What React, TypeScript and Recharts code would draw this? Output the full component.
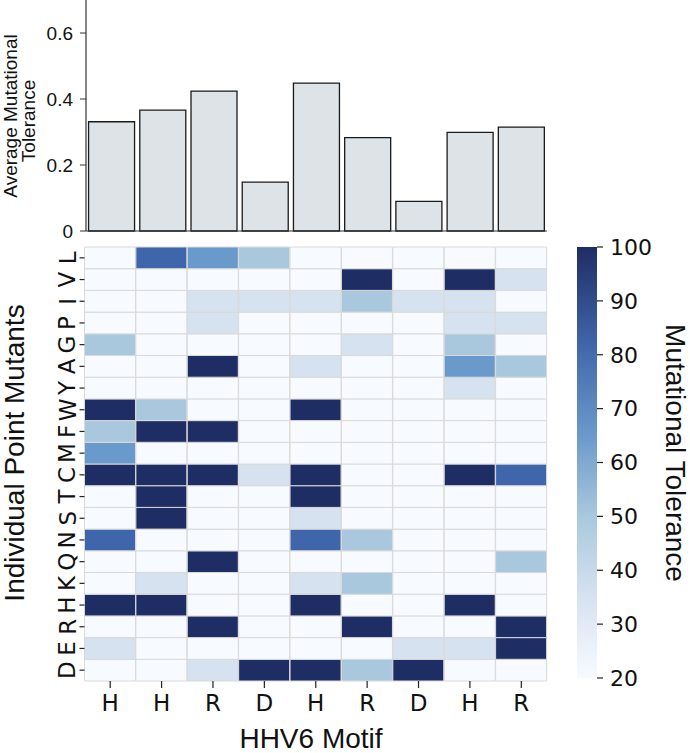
import React from 'react';
import { BarChart, Bar, XAxis, YAxis, Cell, ReferenceLine } from 'recharts';

// motif residues along the x axis
const motifs = ['H', 'H', 'R', 'D', 'H', 'R', 'D', 'H', 'R'];

// average tolerance per motif position (top panel)
const avgTolerance = [0.331, 0.366, 0.424, 0.148, 0.448, 0.283, 0.09, 0.299, 0.315];

// point mutants, top row first
const mutants = ['L', 'V', 'I', 'P', 'G', 'A', 'Y', 'W', 'F', 'M', 'C', 'T', 'S', 'N', 'Q', 'K', 'H', 'R', 'E', 'D'];

// mutational tolerance, one row per mutant, one value per motif position
const toleranceGrid = [
  [20, 82, 65, 50, 20, 20, 20, 20, 20],
  [20, 20, 20, 20, 20, 100, 20, 100, 35],
  [20, 20, 35, 35, 35, 50, 35, 35, 20],
  [20, 20, 35, 20, 20, 20, 20, 35, 35],
  [50, 20, 20, 20, 20, 35, 20, 50, 20],
  [20, 20, 100, 20, 35, 20, 20, 65, 50],
  [20, 20, 20, 20, 20, 20, 20, 35, 20],
  [100, 50, 20, 20, 100, 20, 20, 20, 20],
  [50, 100, 100, 20, 20, 20, 20, 20, 20],
  [65, 20, 20, 20, 20, 20, 20, 20, 20],
  [100, 100, 100, 35, 100, 20, 20, 100, 82],
  [20, 100, 20, 20, 100, 20, 20, 20, 20],
  [20, 100, 20, 20, 35, 20, 20, 20, 20],
  [82, 20, 20, 20, 82, 50, 20, 20, 20],
  [20, 20, 100, 20, 20, 20, 20, 20, 50],
  [20, 35, 20, 20, 35, 50, 20, 20, 20],
  [100, 100, 20, 20, 100, 20, 20, 100, 20],
  [20, 20, 100, 20, 20, 100, 20, 20, 100],
  [35, 20, 20, 20, 20, 20, 35, 35, 100],
  [20, 20, 35, 100, 100, 50, 100, 20, 20],
];

const avgTicks = [0, 0.2, 0.4, 0.6];
const colorbarTicks = [20, 30, 40, 50, 60, 70, 80, 90, 100];

// blue colour ramp used by both the cells and the colour bar
const ramp: [number, string][] = [
  [20, '#f7fbff'],
  [35, '#d6e2f0'],
  [50, '#a9c8de'],
  [65, '#6a9acb'],
  [82, '#3f66aa'],
  [100, '#1f2d65'],
];

const hex = (c: string) => [1, 3, 5].map((i) => parseInt(c.slice(i, i + 2), 16));

function toColor(v: number) {
  for (let i = 1; i < ramp.length; i++) {
    const [v0, c0] = ramp[i - 1];
    const [v1, c1] = ramp[i];
    if (v <= v1) {
      const t = Math.max(0, (v - v0) / (v1 - v0));
      const a = hex(c0);
      const b = hex(c1);
      const rgb = a.map((x, k) => Math.round(x + (b[k] - x) * t));
      return `rgb(${rgb.join(',')})`;
    }
  }
  return ramp[ramp.length - 1][1];
}

const labelFont = '"Liberation Sans", Arial, sans-serif';
const tickFont = '"DejaVu Sans", sans-serif';
const ink = '#111';

const avgData = avgTolerance.map((v, i) => ({ col: i, avg: v }));

const gridData = motifs.map((_, c) => {
  const row: Record<string, number> = { col: c };
  mutants.forEach((_, r) => {
    row[`m${r}`] = 1;
  });
  return row;
});

const rowTicks = mutants.map((_, r) => mutants.length - r - 0.5);

// gradient stops have to run top (100) to bottom (20)
const rampStops = [...ramp].reverse();

const MutantTick = (props: any) => {
  const { x, y, payload } = props;
  const label = mutants[mutants.length - 1 - Math.floor(payload.value)];
  const bx = x - 1;
  return (
    <text x={bx} y={y} transform={`rotate(-90 ${bx} ${y})`} textAnchor="middle" fontFamily={tickFont} fontSize={23} fill={ink}>
      {label}
    </text>
  );
};

export default function App() {
  return (
    <div style={{ position: 'absolute', left: 0, top: 0, width: 690, height: 753, background: '#fff' }}>
      {/* average tolerance bars */}
      <div style={{ position: 'absolute', left: 0, top: 0 }}>
        <BarChart width={560} height={250} data={avgData} margin={{ top: 0, right: 13, left: 0, bottom: 19 }} barCategoryGap="5%">
          <XAxis dataKey="col" hide />
          <YAxis
            width={86}
            domain={[0, 0.7]}
            ticks={avgTicks}
            interval={0}
            tickFormatter={(v: number) => (v === 0 ? '0' : v.toFixed(1))}
            axisLine={{ stroke: '#333', strokeWidth: 1.2 }}
            tickLine={{ stroke: '#333' }}
            tickSize={6}
            tickMargin={7}
            tick={{ fontFamily: labelFont, fontSize: 19, fill: ink }}
            label={{
              content: () => (
                <g fontFamily={labelFont} fontSize={19} fill={ink} textAnchor="middle">
                  <text x={17} y={116} transform="rotate(-90 17 116)">Average Mutational</text>
                  <text x={35} y={121} transform="rotate(-90 35 121)">Tolerance</text>
                </g>
              ),
            }}
          />
          <ReferenceLine y={0} stroke="#333" strokeWidth={1.2} />
          <Bar dataKey="avg" fill="#dde3e6" stroke="#1a1a1a" strokeWidth={1.3} isAnimationActive={false} />
        </BarChart>
      </div>

      {/* heatmap of tolerance per mutant */}
      <div style={{ position: 'absolute', left: 0, top: 240 }}>
        <BarChart width={560} height={513} data={gridData} margin={{ top: 7, right: 13, left: 0, bottom: 0 }} barCategoryGap={0} barGap={0}>
          <XAxis
            dataKey="col"
            height={72}
            tickFormatter={(i: number) => motifs[i]}
            axisLine={false}
            tickLine={{ stroke: '#222', strokeWidth: 1.2 }}
            tickSize={7}
            tickMargin={7}
            tick={{ fontFamily: tickFont, fontSize: 23, fill: ink }}
            label={{
              content: () => (
                <text x={311} y={508} textAnchor="middle" fontFamily={labelFont} fontSize={28} fill={ink}>
                  HHV6 Motif
                </text>
              ),
            }}
          />
          <YAxis
            type="number"
            width={84.5}
            domain={[0, mutants.length]}
            ticks={rowTicks}
            interval={0}
            axisLine={false}
            tickLine={{ stroke: '#222', strokeWidth: 1.2 }}
            tickSize={5}
            tickMargin={3}
            tick={<MutantTick />}
            label={{
              content: () => (
                <text x={24} y={213} transform="rotate(-90 24 213)" textAnchor="middle" fontFamily={labelFont} fontSize={28} fill={ink}>
                  Individual Point Mutants
                </text>
              ),
            }}
          />
          {mutants
            .map((_, r) => r)
            .reverse()
            .map((r) => (
              <Bar key={r} dataKey={`m${r}`} stackId="grid" stroke="#d9d9d9" strokeWidth={1} isAnimationActive={false}>
                {motifs.map((_, c) => (
                  <Cell key={c} fill={toColor(toleranceGrid[r][c])} />
                ))}
              </Bar>
            ))}
        </BarChart>
      </div>

      {/* colour bar */}
      <div style={{ position: 'absolute', left: 560, top: 220 }}>
        <BarChart width={130} height={480} data={[{ k: 'scale', v: 100 }]} margin={{ top: 27, right: 0, left: 17, bottom: 22 }} barCategoryGap={0}>
          <defs>
            <linearGradient id="tolRamp" x1="0" y1="0" x2="0" y2="1">
              {rampStops.map(([v, c]) => (
                <stop key={v} offset={(100 - v) / 80} stopColor={c} />
              ))}
            </linearGradient>
          </defs>
          <XAxis dataKey="k" hide />
          <YAxis
            orientation="right"
            width={93}
            domain={[20, 100]}
            ticks={colorbarTicks}
            interval={0}
            axisLine={false}
            tickLine={{ stroke: '#222', strokeWidth: 1.2 }}
            tickSize={6}
            tickMargin={7}
            tick={{ fontFamily: tickFont, fontSize: 22, fill: ink }}
            label={{
              content: () => (
                <text x={106} y={233} transform="rotate(90 106 233)" textAnchor="middle" fontFamily={labelFont} fontSize={28} fill={ink}>
                  Mutational Tolerance
                </text>
              ),
            }}
          />
          <Bar dataKey="v" fill="url(#tolRamp)" isAnimationActive={false} />
        </BarChart>
      </div>
    </div>
  );
}
